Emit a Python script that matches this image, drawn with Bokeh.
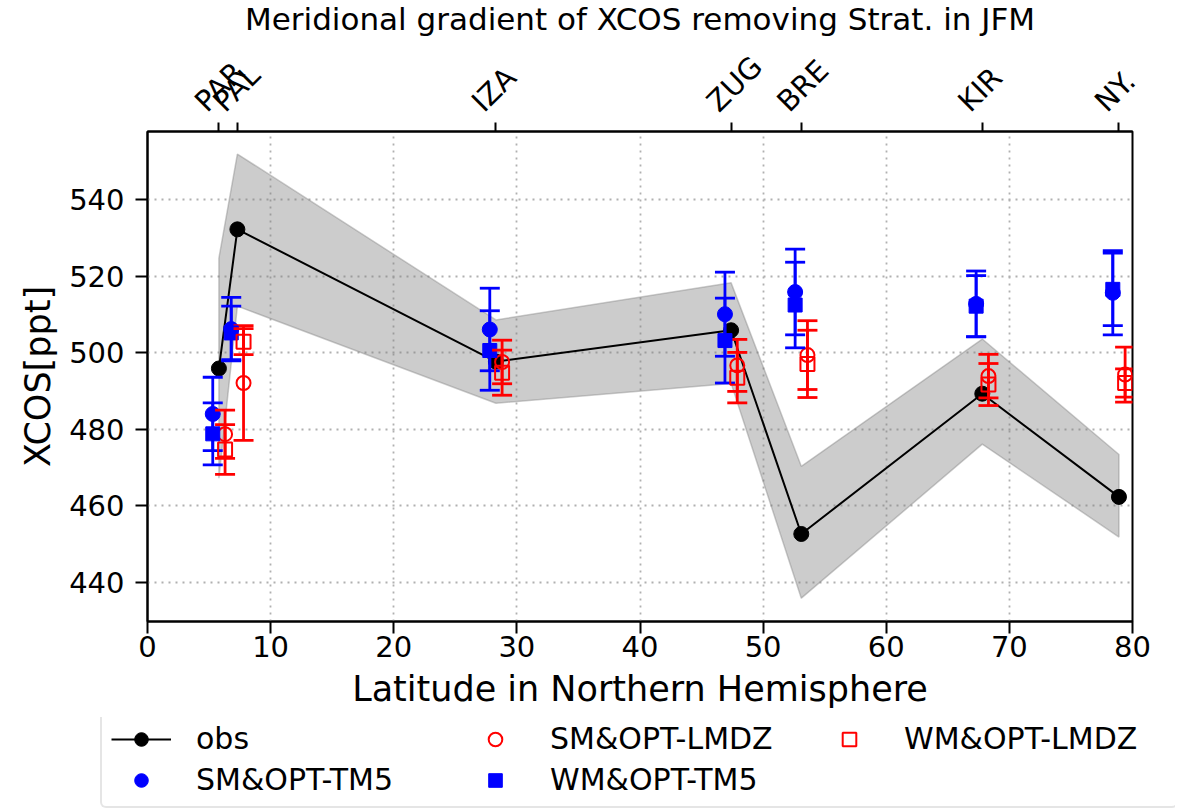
import numpy as np
from bokeh.plotting import figure
from bokeh.models import (Range1d, LinearAxis, FixedTicker, Legend, LegendItem)
from bokeh.embed import file_html
from bokeh.resources import INLINE

# ---------------- data ----------------
stations = ["PAR", "PAL", "IZA", "ZUG", "BRE", "KIR", "NY."]
lat = [5.8, 7.3, 28.3, 47.4, 53.1, 67.8, 78.9]

obs = [495.9, 532.3, 497.7, 505.9, 452.6, 489.3, 462.3]
obs_upper = [524.8, 552.0, 508.6, 518.3, 470.3, 503.6, 473.4]
obs_lower = [467.2, 512.2, 486.8, 492.0, 435.8, 476.1, 451.8]

sm_tm5 = [484.0, 506.2, 506.1, 510.1, 515.9, 512.8, 515.7]
sm_tm5_err = [9.6, 8.3, 10.8, 11.0, 11.2, 8.6, 11.0]
wm_tm5 = [478.8, 505.2, 500.6, 503.2, 512.5, 512.2, 516.6]
wm_tm5_err = [8.1, 7.0, 10.4, 11.1, 11.2, 8.0, 9.5]
sm_lmdz = [478.7, 492.1, 497.6, 496.7, 499.4, 493.9, 494.3]
sm_lmdz_err = [6.3, 15.0, 5.7, 6.8, 9.0, 5.7, 7.2]
wm_lmdz = [474.7, 502.9, 494.8, 493.5, 497.1, 491.7, 492.1]
wm_lmdz_err = [6.5, 3.4, 5.9, 6.6, 8.8, 5.5, 3.7]

x_ticks = [0, 10, 20, 30, 40, 50, 60, 70, 80]
y_ticks = [440, 460, 480, 500, 520, 540]

FONT = "DejaVu Sans"

p = figure(width=1175, height=717, x_range=Range1d(0, 80), y_range=Range1d(429.7, 557.9),
           output_backend="svg", toolbar_location=None,
           min_border_left=147, min_border_right=43, min_border_top=131, min_border_bottom=96,
           title="Meridional gradient of XCOS removing Strat. in JFM")
p.background_fill_color = "white"
p.border_fill_color = "white"
p.outline_line_color = "black"
p.outline_line_width = 2
p.outline_line_alpha = 1

p.title.text_font = FONT
p.title.text_font_size = "31px"
p.title.text_font_style = "normal"
p.title.align = "center"
p.title.text_color = "black"
p.title.standoff = -4

def style_axis(ax, tick_out=12):
    ax.major_label_text_font = FONT
    ax.major_label_text_font_size = "29px"
    ax.major_label_text_color = "black"
    ax.axis_label_text_font = FONT
    ax.axis_label_text_font_size = "35px"
    ax.axis_label_text_font_style = "normal"
    ax.axis_label_text_color = "black"
    ax.major_tick_out = tick_out
    ax.major_tick_in = 0
    ax.minor_tick_out = 0
    ax.minor_tick_in = 0
    ax.major_tick_line_width = 2
    ax.major_tick_line_color = "black"
    ax.axis_line_width = 2
    ax.axis_line_color = "black"

p.xaxis.ticker = FixedTicker(ticks=x_ticks)
p.yaxis.ticker = FixedTicker(ticks=y_ticks)
p.xaxis.axis_label = "Latitude in Northern Hemisphere"
p.yaxis.axis_label = "XCOS[ppt]"
for ax in p.xaxis + p.yaxis:
    style_axis(ax)
p.xaxis.major_label_standoff = 2
p.xaxis.axis_label_standoff = 9
p.yaxis.major_label_standoff = 11
p.yaxis.axis_label_standoff = 8

# top axis: tick marks at the station latitudes
top = LinearAxis(ticker=FixedTicker(ticks=lat),
                 major_label_overrides={l: "" for l in lat})
style_axis(top, tick_out=9)
top.major_label_standoff = 0
p.add_layout(top, "above")

# station names, rotated 45 deg; anchor moved left so each name is centred on its tick
label_shift = 1.55
lab_pos = [l - label_shift for l in lat]
top_lab = LinearAxis(ticker=FixedTicker(ticks=lab_pos),
                     major_label_overrides={l: s for l, s in zip(lab_pos, stations)})
style_axis(top_lab, tick_out=0)
top_lab.axis_line_alpha = 0
top_lab.major_tick_line_alpha = 0
top_lab.major_label_orientation = np.pi / 4
top_lab.major_label_standoff = 16
p.add_layout(top_lab, "above")

for g in (p.xgrid, p.ygrid):
    g.grid_line_color = "#b0b0b0"
    g.grid_line_dash = "2 5"
    g.grid_line_width = 1.8
p.xgrid.ticker = FixedTicker(ticks=x_ticks)
p.ygrid.ticker = FixedTicker(ticks=y_ticks)

# observation band
band_x = lat + lat[::-1]
band_y = obs_upper + obs_lower[::-1]
p.patch(band_x, band_y, fill_color="gray", fill_alpha=0.4,
        line_color="gray", line_alpha=0.4, line_width=1.5)
p.line(lat, obs, line_color="black", line_width=2)
p.scatter(lat, obs, size=15, marker="circle", fill_color="black", line_color="black")

STY = {
    "sm_tm5": dict(color="blue", marker="circle", filled=True, size=15),
    "sm_lmdz": dict(color="red", marker="circle", filled=False, size=14),
    "wm_tm5": dict(color="blue", marker="square", filled=True, size=14),
    "wm_lmdz": dict(color="red", marker="square", filled=False, size=14),
}
VALS = {"sm_tm5": sm_tm5, "sm_lmdz": sm_lmdz, "wm_tm5": wm_tm5, "wm_lmdz": wm_lmdz}

def marker_kw(st):
    if st["filled"]:
        return dict(marker=st["marker"], fill_color=st["color"], line_color=st["color"])
    return dict(marker=st["marker"], fill_alpha=0, line_color=st["color"], line_width=2)

def errbar(offset, vals, errs, st):
    xs = [l + offset for l in lat]
    lo = [v - e for v, e in zip(vals, errs)]
    hi = [v + e for v, e in zip(vals, errs)]
    p.segment(x0=xs, y0=lo, x1=xs, y1=hi, line_color=st["color"], line_width=2.8)
    p.scatter(x=xs + xs, y=lo + hi, marker="dash", size=20, line_color=st["color"], line_width=2.8)
    p.scatter(xs, vals, size=st["size"], **marker_kw(st))

errbar(-0.5, sm_tm5, sm_tm5_err, STY["sm_tm5"])
errbar(0.5, sm_lmdz, sm_lmdz_err, STY["sm_lmdz"])
errbar(-0.5, wm_tm5, wm_tm5_err, STY["wm_tm5"])
errbar(0.5, wm_lmdz, wm_lmdz_err, STY["wm_lmdz"])

# ---------------- legend (separate strip below the plot) ----------------
# its ranges are empty of data, so the series only feed the legend swatches
lg = figure(width=1175, height=92, x_range=Range1d(-2, -1), y_range=Range1d(-2, -1),
            output_backend="svg", toolbar_location=None,
            x_axis_location=None, y_axis_location=None,
            min_border_left=0, min_border_right=0, min_border_top=0, min_border_bottom=0)
lg.grid.visible = False
lg.outline_line_color = None
lg.background_fill_color = "white"
lg.border_fill_color = "white"

lo_line = lg.line(lat, obs, line_color="black", line_width=2)
lo_pt = lg.scatter(lat, obs, marker="circle", fill_color="black", line_color="black")
leg_r = {k: lg.scatter(lat, VALS[k], **marker_kw(st)) for k, st in STY.items()}

legend = Legend(items=[
    LegendItem(label="obs", renderers=[lo_line, lo_pt]),
    LegendItem(label="SM&OPT-LMDZ", renderers=[leg_r["sm_lmdz"]]),
    LegendItem(label="WM&OPT-LMDZ", renderers=[leg_r["wm_lmdz"]]),
    LegendItem(label="SM&OPT-TM5", renderers=[leg_r["sm_tm5"]]),
    LegendItem(label="WM&OPT-TM5", renderers=[leg_r["wm_tm5"]]),
], orientation="horizontal", ncols=3, location=(100, 1))
legend.label_text_font = FONT
legend.label_text_font_size = "30px"
legend.label_text_color = "black"
legend.glyph_width = 60
legend.glyph_height = 34
legend.label_height = 34
legend.label_width = 263
legend.label_standoff = 25
legend.spacing = 6
legend.padding = 9
legend.margin = 0
legend.border_line_color = "#cccccc"
legend.border_line_width = 2
legend.border_radius = 6
legend.background_fill_alpha = 0.8
lg.add_layout(legend)

open("out.html", "w").write(file_html([p, lg], INLINE))
